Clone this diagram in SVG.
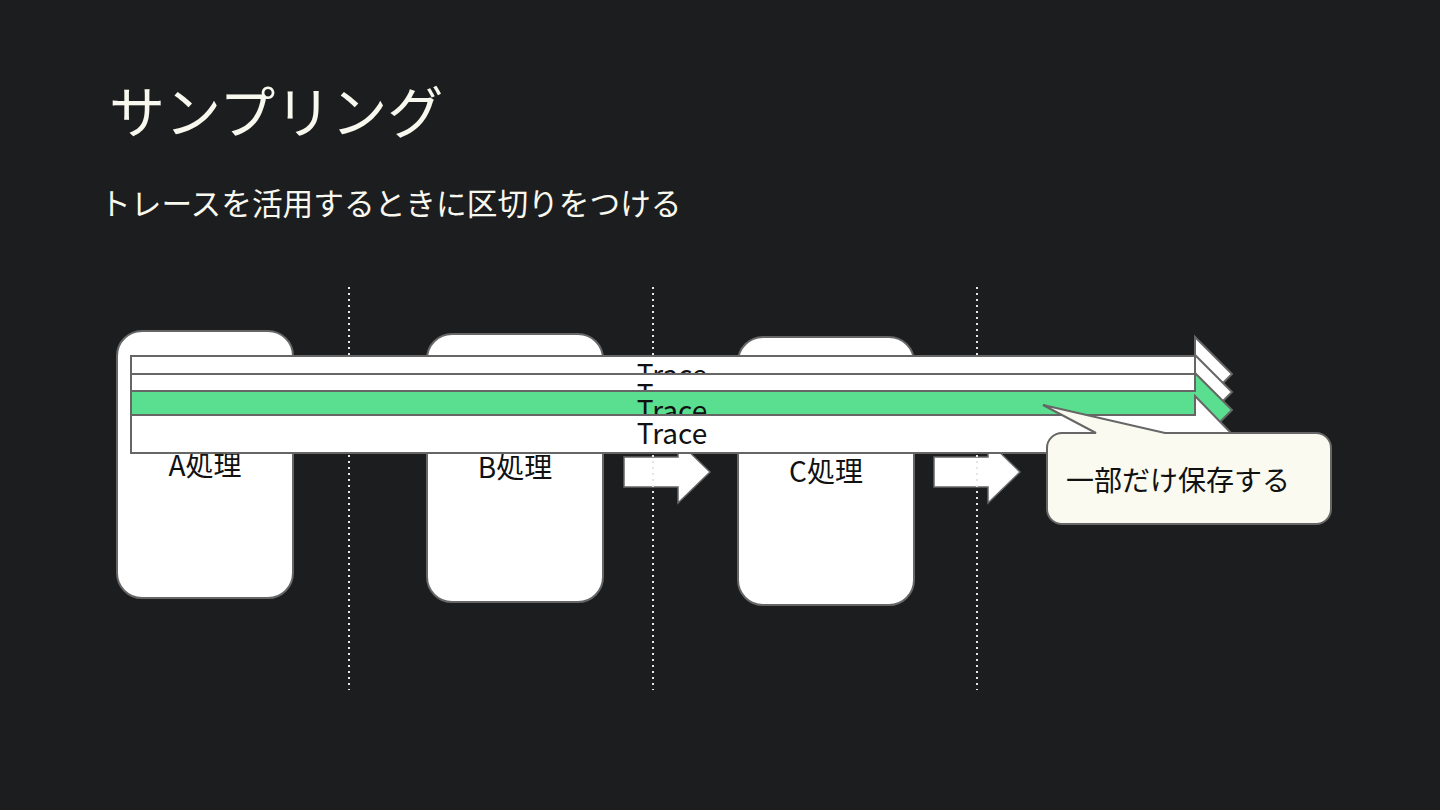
<svg xmlns="http://www.w3.org/2000/svg" width="1440" height="810" viewBox="0 0 1440 810">
<style>
.bg{fill:#1c1d1f}
.title{font-family:"Noto Sans CJK JP","Noto Sans",sans-serif;fill:#f8f8ee}
.node{fill:#ffffff;stroke:#666666;stroke-width:2}
.lbl{font-family:"Noto Sans CJK JP","Noto Sans",sans-serif;font-size:28px;fill:#111111;text-anchor:middle}
.div{stroke:#e6e6e6;stroke-width:2;stroke-dasharray:2 4;fill:none}
.blk{fill:#ffffff;stroke:#666666;stroke-width:1.5}
.trace{fill:#ffffff;stroke:#666666;stroke-width:2}
.green{fill:#5ade8f}
.callout{fill:#fafaf0;stroke:#666666;stroke-width:2}
</style>
<rect class="bg" x="0" y="0" width="1440" height="810"/>
<text class="title" x="109" y="133" font-size="56">サンプリング</text>
<text class="title" x="100" y="215" font-size="30.7">トレースを活用するときに区切りをつける</text>

<g id="node-a"><rect class="node" x="117" y="331" width="176" height="267" rx="25"/><text class="lbl" x="205" y="476">A処理</text></g>
<g id="node-b"><rect class="node" x="427" y="334" width="176" height="268" rx="25"/><text class="lbl" x="515" y="478">B処理</text></g>
<g id="node-c"><rect class="node" x="738" y="337" width="176" height="268" rx="25"/><text class="lbl" x="826" y="482">C処理</text></g>

<g id="connectors">
<path class="blk" d="M624,457 H678 V441 L710,472 L678,503 V487 H624 Z"/>
<path class="blk" d="M934,457 H988 V441 L1020,472 L988,503 V487 H934 Z"/>
</g>

<g id="dividers">
<line class="div" x1="349" y1="287" x2="349" y2="690"/>
<line class="div" x1="653" y1="287" x2="653" y2="690"/>
<line class="div" x1="977" y1="287" x2="977" y2="690"/>
</g>

<g id="trace-1"><path class="trace" d="M131,356 H1195 V337 L1232,374 L1195,411 V392 H131 Z"/><text class="lbl" x="672" y="385">Trace</text></g>
<g id="trace-2"><path class="trace" d="M131,374 H1195 V355 L1232,392 L1195,429 V410 H131 Z"/><text class="lbl" x="672" y="405">Trace</text></g>
<g id="trace-3"><path class="trace green" d="M131,391 H1195 V373 L1232,410 L1195,447 V429 H131 Z"/><text class="lbl" x="672" y="421">Trace</text></g>
<g id="trace-4"><path class="trace" d="M131,415 H1195 V396 L1232,434 L1195,472 V453 H131 Z"/><text class="lbl" x="672" y="444">Trace</text></g>

<g id="callout"><path class="callout" d="M1062,433 H1096 L1043,405 L1165,433 H1316 A15,15 0 0 1 1331,448 V509 A15,15 0 0 1 1316,524 H1062 A15,15 0 0 1 1047,509 V448 A15,15 0 0 1 1062,433 Z"/><text class="lbl" x="1178" y="491">一部だけ保存する</text></g>
</svg>
